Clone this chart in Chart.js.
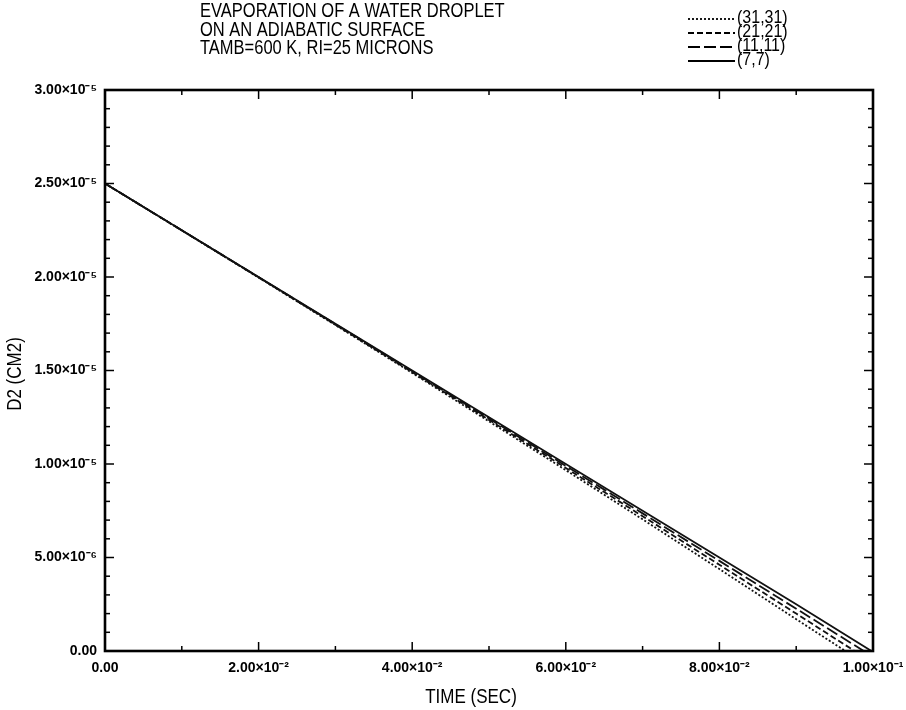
<!DOCTYPE html>
<html>
<head>
<meta charset="utf-8">
<title>Droplet evaporation</title>
<script src="https://cdn.jsdelivr.net/npm/chart.js@4.4.1/dist/chart.umd.min.js"></script>
<style>
  html, body { margin: 0; padding: 0; background: #fff; }
  #wrap { width: 906px; height: 710px; position: relative; }
</style>
</head>
<body>
<div id="wrap"><canvas id="dropChart"></canvas></div>
<script>
// ---- data: D^2 (cm^2) vs time (sec) for each grid ----
const t31 = [0, 0.01, 0.02, 0.03, 0.04, 0.05, 0.06, 0.07, 0.08, 0.09, 0.0964];
const d31 = [2.500e-5, 2.249e-5, 1.997e-5, 1.743e-5, 1.487e-5, 1.228e-5, 0.967e-5, 0.704e-5, 0.438e-5, 0.170e-5, 0];

const t21 = [0, 0.01, 0.02, 0.03, 0.04, 0.05, 0.06, 0.07, 0.08, 0.09, 0.0976];
const d21 = [2.500e-5, 2.249e-5, 1.998e-5, 1.745e-5, 1.491e-5, 1.236e-5, 0.979e-5, 0.721e-5, 0.461e-5, 0.200e-5, 0];

const t11 = [0, 0.01, 0.02, 0.03, 0.04, 0.05, 0.06, 0.07, 0.08, 0.09, 0.0988];
const d11 = [2.500e-5, 2.250e-5, 1.999e-5, 1.748e-5, 1.496e-5, 1.243e-5, 0.990e-5, 0.736e-5, 0.482e-5, 0.226e-5, 0];

const t7 = [0, 0.01, 0.02, 0.03, 0.04, 0.05, 0.06, 0.07, 0.08, 0.09, 0.0998];
const d7 = [2.500e-5, 2.250e-5, 2.000e-5, 1.750e-5, 1.500e-5, 1.250e-5, 1.000e-5, 0.750e-5, 0.500e-5, 0.250e-5, 0];

const gridNames = ["(31,31)", "(21,21)", "(11,11)", "(7,7)"];

// ---- axis ticks ----
const xTickValues = [0, 0.02, 0.04, 0.06, 0.08, 0.1];
const xTickLabels = ["0.00", "2.00\u00d710\u207b\u00b2", "4.00\u00d710\u207b\u00b2", "6.00\u00d710\u207b\u00b2", "8.00\u00d710\u207b\u00b2", "1.00\u00d710\u207b\u00b9"];
const yTickValues = [0, 0.5e-5, 1.0e-5, 1.5e-5, 2.0e-5, 2.5e-5, 3.0e-5];
const yTickLabels = ["0.00", "5.00\u00d710\u207b\u2076", "1.00\u00d710\u207b\u2075", "1.50\u00d710\u207b\u2075", "2.00\u00d710\u207b\u2075", "2.50\u00d710\u207b\u2075", "3.00\u00d710\u207b\u2075"];

const titleLines = ["EVAPORATION OF A WATER DROPLET", "ON AN ADIABATIC SURFACE", "TAMB=600 K, RI=25 MICRONS"];
const xTitle = "TIME (SEC)";
const yTitle = "D2 (CM2)";

function toPoints(ts, ds) {
  return ts.map((t, i) => ({ x: t, y: ds[i] }));
}

function series(label, ts, ds, dash) {
  return {
    label: label,
    data: toPoints(ts, ds),
    borderColor: "#111",
    borderWidth: 1.8,
    borderDash: dash,
    pointRadius: 0,
    fill: false,
    tension: 0,
  };
}

const FONT = "'Liberation Sans', Arial, sans-serif";

// draw text stretched a bit taller than the plain font
function tallText(ctx, s, x, y, stretch) {
  ctx.save();
  ctx.translate(x, y);
  ctx.scale(1, stretch);
  ctx.fillText(s, 0, 0);
  ctx.restore();
}

// frame with inward ticks on all four sides
const frameTicks = {
  id: "frameTicks",
  afterDraw(chart) {
    const { ctx, chartArea: a } = chart;
    const x = chart.scales.x;
    const y = chart.scales.y;
    ctx.save();
    ctx.strokeStyle = "#000";
    ctx.lineWidth = 1.5;
    const seg = (x1, y1, x2, y2) => {
      ctx.beginPath();
      ctx.moveTo(x1, y1);
      ctx.lineTo(x2, y2);
      ctx.stroke();
    };
    for (let i = 0; i <= 30; i++) {
      const py = y.getPixelForValue(i * 1e-6);
      const len = i % 5 === 0 ? 9 : 5;
      seg(a.left, py, a.left + len, py);
      seg(a.right, py, a.right - len, py);
    }
    for (let i = 0; i <= 10; i++) {
      const px = x.getPixelForValue(i * 0.01);
      const len = i % 2 === 0 ? 9 : 5;
      seg(px, a.bottom, px, a.bottom - len);
      seg(px, a.top, px, a.top + len);
    }
    ctx.lineWidth = 2.6;
    ctx.strokeRect(a.left, a.top, a.right - a.left, a.bottom - a.top);
    ctx.restore();
  },
};

// title block, axis titles and line-style key
const headerKey = {
  id: "headerKey",
  afterDraw(chart) {
    const ctx = chart.ctx;
    ctx.save();
    ctx.fillStyle = "#000";
    ctx.textBaseline = "middle";
    ctx.textAlign = "left";
    ctx.font = "16.5px " + FONT;
    const titleY = [12, 31, 49];
    titleLines.forEach((s, i) => tallText(ctx, s, 200, titleY[i], 1.2));

    ctx.font = "16px " + FONT;
    const rowY = [18, 32, 46, 60];
    chart.data.datasets.forEach((ds, i) => {
      ctx.strokeStyle = "#000";
      ctx.lineWidth = 1.8;
      ctx.setLineDash(ds.borderDash || []);
      ctx.beginPath();
      ctx.moveTo(688, rowY[i] + 1);
      ctx.lineTo(735, rowY[i] + 1);
      ctx.stroke();
      ctx.setLineDash([]);
      tallText(ctx, ds.label, 737, rowY[i], 1.15);
    });

    // axis titles
    ctx.font = "17px " + FONT;
    ctx.textAlign = "center";
    tallText(ctx, xTitle, 471, 698, 1.15);
    ctx.save();
    ctx.translate(16, 374);
    ctx.rotate(-Math.PI / 2);
    tallText(ctx, yTitle, 0, 0, 1.15);
    ctx.restore();
    ctx.restore();
  },
};

new Chart(document.getElementById("dropChart"), {
  type: "line",
  data: {
    datasets: [
      series(gridNames[0], t31, d31, [2, 2]),
      series(gridNames[1], t21, d21, [6, 3]),
      series(gridNames[2], t11, d11, [12, 4]),
      series(gridNames[3], t7, d7, []),
    ],
  },
  options: {
    responsive: true,
    maintainAspectRatio: false,
    animation: false,
    layout: { padding: { top: 90, right: 33, left: 0, bottom: 0 } },
    plugins: {
      legend: { display: false },
      tooltip: { enabled: false },
    },
    scales: {
      x: {
        type: "linear",
        min: 0,
        max: 0.1,
        afterBuildTicks: (s) => { s.ticks = xTickValues.map((v) => ({ value: v })); },
        afterFit: (s) => {
          s.height = 59;
          s.paddingLeft = 0;
          s.paddingRight = 0;
        },
        grid: { display: false, drawTicks: false },
        border: { display: false },
        ticks: {
          padding: 9,
          color: "#000",
          font: { family: FONT, size: 14, weight: "bold" },
          maxRotation: 0,
          callback: (v, i) => xTickLabels[i],
        },
      },
      y: {
        type: "linear",
        min: 0,
        max: 3e-5,
        afterBuildTicks: (s) => { s.ticks = yTickValues.map((v) => ({ value: v })); },
        afterFit: (s) => {
          s.width = 105;
          s.paddingTop = 0;
          s.paddingBottom = 0;
        },
        grid: { display: false, drawTicks: false },
        border: { display: false },
        ticks: {
          padding: 8,
          color: "#000",
          font: { family: FONT, size: 14, weight: "bold" },
          callback: (v, i) => yTickLabels[i],
        },
      },
    },
  },
  plugins: [frameTicks, headerKey],
});
</script>
</body>
</html>
